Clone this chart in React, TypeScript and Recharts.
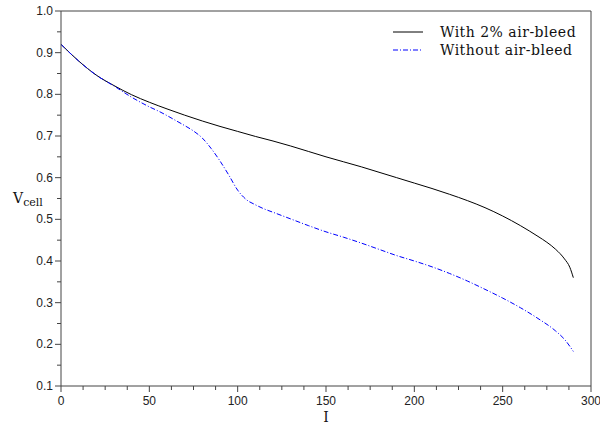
import { LineChart, Line, XAxis, YAxis, Label, ReferenceLine } from "recharts";

// current I for the curve with 2% air-bleed
const bleedI = [0, 10, 20, 30, 40, 50, 60, 70, 80, 90, 100, 110, 120, 130, 140, 150, 160, 170, 180, 190, 200, 210, 220, 230, 240, 250, 260, 270, 275, 280, 285, 288, 290];
const bleedV = [0.92, 0.88, 0.846, 0.821, 0.799, 0.781, 0.765, 0.75, 0.736, 0.723, 0.711, 0.699, 0.688, 0.676, 0.663, 0.65, 0.638, 0.626, 0.613, 0.6, 0.587, 0.574, 0.56, 0.545, 0.528, 0.508, 0.485, 0.459, 0.445, 0.428, 0.405, 0.385, 0.36];

// current I for the curve without air-bleed
const noBleedI = [0, 10, 20, 30, 40, 45, 50, 56, 60, 65, 70, 75, 80, 85, 90, 95, 100, 105, 110, 115, 120, 130, 140, 150, 160, 170, 180, 190, 200, 210, 220, 230, 240, 250, 260, 270, 280, 285, 290];
const noBleedV = [0.92, 0.88, 0.846, 0.82, 0.793, 0.781, 0.77, 0.758, 0.749, 0.737, 0.725, 0.712, 0.695, 0.67, 0.64, 0.606, 0.57, 0.547, 0.535, 0.525, 0.517, 0.501, 0.485, 0.47, 0.457, 0.443, 0.428, 0.413, 0.4, 0.386, 0.37, 0.352, 0.332, 0.311, 0.288, 0.262, 0.232, 0.212, 0.183];

const xTicks = [0, 12.5, 25, 37.5, 50, 62.5, 75, 87.5, 100, 112.5, 125, 137.5, 150, 162.5, 175, 187.5, 200, 212.5, 225, 237.5, 250, 262.5, 275, 287.5, 300];
const yTicks = [0.1, 0.15, 0.2, 0.25, 0.3, 0.35, 0.4, 0.45, 0.5, 0.55, 0.6, 0.65, 0.7, 0.75, 0.8, 0.85, 0.9, 0.95, 1.0];

const seriesNames = ["With 2% air-bleed", "Without air-bleed"];

const bleedData = bleedI.map((I, i) => ({ I, v: bleedV[i] }));
const noBleedData = noBleedI.map((I, i) => ({ I, v: noBleedV[i] }));

const AXIS = "#444";
const SANS = "'Liberation Sans', Arial, sans-serif";
const SERIF = "'DejaVu Serif', serif";
const DASH = "5 2 1 2";

function XTick(props: any) {
  const { x, y, payload } = props;
  const major = payload.value % 50 === 0;
  return (
    <g>
      <line x1={x} x2={x} y1={y} y2={y + (major ? 6 : 4)} stroke={AXIS} />
      {major && (
        <text x={x} y={y + 19} textAnchor="middle" fontSize={12} fontFamily={SANS} fill="#222">
          {payload.value}
        </text>
      )}
    </g>
  );
}

function YTick(props: any) {
  const { x, y, payload } = props;
  const major = Math.round(payload.value * 100) % 10 === 0;
  return (
    <g>
      <line x1={x - (major ? 6 : 4)} x2={x} y1={y} y2={y} stroke={AXIS} />
      {major && (
        <text x={x - 8} y={y + 4} textAnchor="end" fontSize={12} fontFamily={SANS} fill="#222">
          {payload.value.toFixed(1)}
        </text>
      )}
    </g>
  );
}

// legend drawn as an overlay so it does not shrink the plot area
function LegendBox() {
  return (
    <svg width={200} height={40} style={{ position: "absolute", left: 393, top: 24 }}>
      <line x1={0} x2={30} y1={8} y2={8} stroke="#000" />
      <text x={47} y={13} fontSize={14} letterSpacing={0.5} fontFamily={SERIF} fill="#111">{seriesNames[0]}</text>
      <line x1={0} x2={30} y1={26} y2={26} stroke="#0000ff" strokeDasharray={DASH} />
      <text x={47} y={31} fontSize={14} letterSpacing={0.5} fontFamily={SERIF} fill="#111">{seriesNames[1]}</text>
    </svg>
  );
}

export default function App() {
  return (
    <div style={{ position: "absolute", left: 0, top: 0, width: 600, height: 427, background: "#fff" }}>
      <LineChart width={600} height={427} margin={{ top: 11, right: 9, bottom: 0, left: 0 }}>
        <XAxis
          dataKey="I"
          type="number"
          domain={[0, 300]}
          ticks={xTicks}
          interval={0}
          tickSize={0}
          tickMargin={0}
          tickLine={false}
          tick={<XTick />}
          axisLine={{ stroke: AXIS }}
          height={41}
        >
          <Label
            content={() => (
              <text x={326} y={422} textAnchor="middle" fontSize={14} fontFamily={SERIF} fill="#111">I</text>
            )}
          />
        </XAxis>
        <YAxis
          type="number"
          domain={[0.1, 1.0]}
          ticks={yTicks}
          interval={0}
          tickSize={0}
          tickMargin={0}
          tickLine={false}
          tick={<YTick />}
          axisLine={{ stroke: AXIS }}
          width={61}
        >
          <Label
            content={() => (
              <text x={13} y={203} fontFamily={SERIF} fill="#111">
                <tspan fontSize={14}>V</tspan>
                <tspan fontSize={11} dy={3}>cell</tspan>
              </text>
            )}
          />
        </YAxis>
        <ReferenceLine y={1.0} stroke={AXIS} ifOverflow="visible" />
        <ReferenceLine x={300} stroke={AXIS} ifOverflow="visible" />
        <Line
          data={bleedData}
          dataKey="v"
          name={seriesNames[0]}
          type="monotone"
          stroke="#000"
          strokeWidth={1}
          dot={false}
          isAnimationActive={false}
        />
        <Line
          data={noBleedData}
          dataKey="v"
          name={seriesNames[1]}
          type="monotone"
          stroke="#0000ff"
          strokeWidth={1}
          strokeDasharray={DASH}
          dot={false}
          isAnimationActive={false}
        />
      </LineChart>
      <LegendBox />
    </div>
  );
}
